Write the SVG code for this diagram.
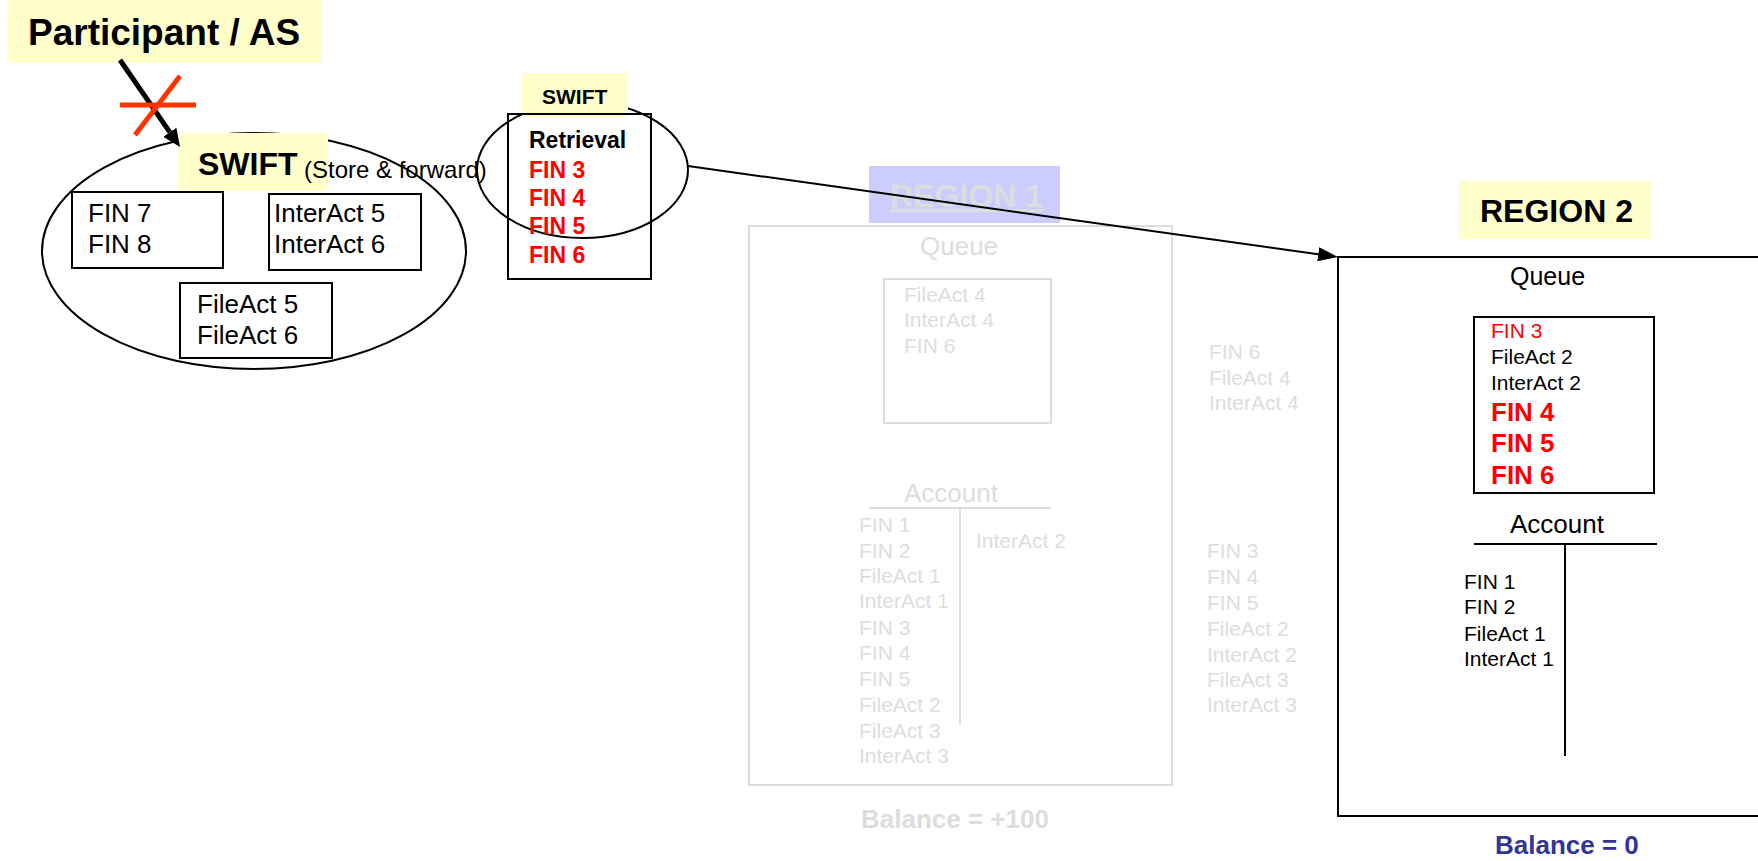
<svg xmlns="http://www.w3.org/2000/svg" width="1758" height="861" viewBox="0 0 1758 861">
<style>
text{font-family:"Liberation Sans",Arial,Helvetica,sans-serif;}
.b{font-weight:bold;}
.box{fill:none;stroke:#000;stroke-width:2;}
.gbox{fill:none;stroke:#DDDDDD;stroke-width:2;}
.yl{fill:#FFFFCC;}
.g{fill:#DDDDDD;}
.red{fill:#FF0000;}
.t21{font-size:21px;}
.t26{font-size:26px;}
</style>
<defs>
<marker id="ah" viewBox="0 0 20 14" refX="0" refY="7" markerWidth="20" markerHeight="14" markerUnits="userSpaceOnUse" orient="auto">
<path d="M0,0 L20,7 L0,14 z" fill="#000"/>
</marker>
<marker id="ahThick" viewBox="0 0 18 16" refX="0" refY="8" markerWidth="18" markerHeight="16" markerUnits="userSpaceOnUse" orient="auto">
<path d="M0,0 L18,8 L0,16 z" fill="#000"/>
</marker>
</defs>
<rect width="1758" height="861" fill="#fff"/>

<g id="participant">
<rect class="yl" x="7" y="0" width="315" height="63"/>
<text class="b" x="28" y="45" font-size="37">Participant / AS</text>
</g>

<g id="swift-store">
<ellipse cx="254" cy="251" rx="212" ry="118" fill="none" stroke="#000" stroke-width="2"/>
<rect class="yl" x="178" y="133" width="150" height="58"/>
<text class="b" x="198" y="175" font-size="32">SWIFT</text>
<text x="304" y="178" font-size="24">(Store &amp; forward)</text>
<g id="fin78">
<rect class="box" x="72" y="192" width="151" height="76"/>
<text class="t26" x="88" y="222">FIN 7</text>
<text class="t26" x="88" y="253">FIN 8</text>
</g>
<g id="interact56">
<rect class="box" x="269" y="194" width="152" height="76"/>
<text class="t26" x="274" y="222">InterAct 5</text>
<text class="t26" x="274" y="253">InterAct 6</text>
</g>
<g id="fileact56">
<rect class="box" x="180" y="283" width="152" height="75"/>
<text class="t26" x="197" y="313">FileAct 5</text>
<text class="t26" x="197" y="344">FileAct 6</text>
</g>
</g>

<g id="swift-retrieval">
<ellipse cx="582.5" cy="170" rx="105.5" ry="68" fill="none" stroke="#000" stroke-width="2"/>
<rect class="yl" x="522" y="73" width="106" height="44"/>
<text class="b" x="542" y="104" font-size="21">SWIFT</text>
<rect class="box" x="508" y="114" width="143" height="165"/>
<g class="b" font-size="23">
<text x="529" y="148">Retrieval</text>
<text class="red" x="529" y="178">FIN 3</text>
<text class="red" x="529" y="206">FIN 4</text>
<text class="red" x="529" y="234">FIN 5</text>
<text class="red" x="529" y="263">FIN 6</text>
</g>
</g>

<g id="region1">
<rect x="869" y="166" width="191" height="57" fill="#CCCCFF"/>
<text class="b g" x="890" y="207" font-size="32" text-decoration="underline">REGION 1</text>
<rect class="gbox" x="749" y="226" width="423" height="559"/>
<text class="g" x="920" y="255" font-size="26">Queue</text>
<rect class="gbox" x="884" y="279" width="167" height="144"/>
<g class="g t21">
<text x="904" y="302">FileAct 4</text>
<text x="904" y="327">InterAct 4</text>
<text x="904" y="353">FIN 6</text>
</g>
<text class="g" x="904" y="502" font-size="26">Account</text>
<line x1="869" y1="508" x2="1051" y2="508" stroke="#DDDDDD" stroke-width="2"/>
<line x1="960" y1="508" x2="960" y2="724" stroke="#DDDDDD" stroke-width="2"/>
<g class="g t21">
<text x="859" y="532">FIN 1</text>
<text x="859" y="558">FIN 2</text>
<text x="859" y="583">FileAct 1</text>
<text x="859" y="608">InterAct 1</text>
<text x="859" y="635">FIN 3</text>
<text x="859" y="660">FIN 4</text>
<text x="859" y="686">FIN 5</text>
<text x="859" y="712">FileAct 2</text>
<text x="859" y="738">FileAct 3</text>
<text x="859" y="763">InterAct 3</text>
<text x="976" y="548">InterAct 2</text>
</g>
<text class="b g" x="861" y="828" font-size="26">Balance = +100</text>
</g>

<g id="region1-side">
<g class="g t21">
<text x="1209" y="359">FIN 6</text>
<text x="1209" y="385">FileAct 4</text>
<text x="1209" y="410">InterAct 4</text>
<text x="1207" y="558">FIN 3</text>
<text x="1207" y="584">FIN 4</text>
<text x="1207" y="610">FIN 5</text>
<text x="1207" y="636">FileAct 2</text>
<text x="1207" y="662">InterAct 2</text>
<text x="1207" y="687">FileAct 3</text>
<text x="1207" y="712">InterAct 3</text>
</g>
</g>

<g id="region2">
<rect class="yl" x="1459" y="181" width="192" height="58"/>
<text class="b" x="1480" y="222" font-size="32">REGION 2</text>
<rect class="box" x="1338" y="257" width="440" height="559"/>
<text x="1510" y="285" font-size="25">Queue</text>
<rect class="box" x="1474" y="317" width="180" height="176"/>
<text class="red t21" x="1491" y="338">FIN 3</text>
<text class="t21" x="1491" y="364">FileAct 2</text>
<text class="t21" x="1491" y="390">InterAct 2</text>
<g class="b red t26">
<text x="1491" y="421">FIN 4</text>
<text x="1491" y="452">FIN 5</text>
<text x="1491" y="484">FIN 6</text>
</g>
<text x="1510" y="533" font-size="26">Account</text>
<line x1="1474" y1="544" x2="1657" y2="544" stroke="#000" stroke-width="2"/>
<line x1="1565" y1="544" x2="1565" y2="756" stroke="#000" stroke-width="2"/>
<g class="t21">
<text x="1464" y="589">FIN 1</text>
<text x="1464" y="614">FIN 2</text>
<text x="1464" y="641">FileAct 1</text>
<text x="1464" y="666">InterAct 1</text>
</g>
<text class="b" x="1495" y="854" font-size="26" fill="#333399">Balance = 0</text>
</g>

<g id="connectors">
<line x1="120" y1="60" x2="169.8" y2="132.2" stroke="#000" stroke-width="5" marker-end="url(#ahThick)"/>
<line x1="688" y1="166" x2="1318.2" y2="254.2" stroke="#000" stroke-width="2" marker-end="url(#ah)"/>
<g id="blocked" stroke="#FF3300" stroke-width="5">
<line x1="120" y1="105" x2="196" y2="105"/>
<line x1="135" y1="135" x2="180" y2="76"/>
</g>
</g>
</svg>
